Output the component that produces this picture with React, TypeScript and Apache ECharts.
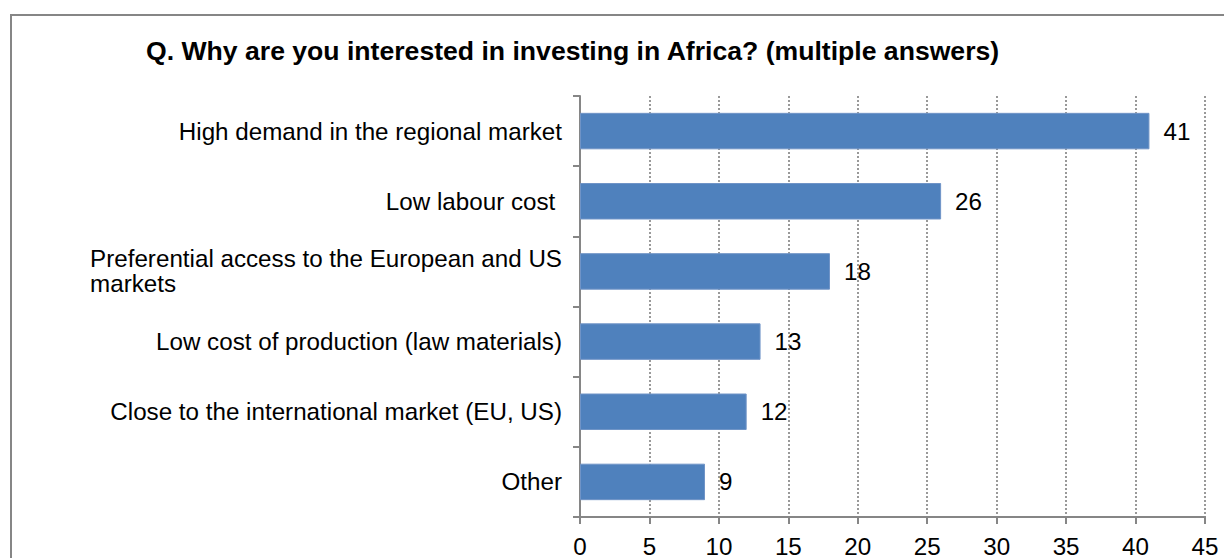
import React, { useEffect, useRef } from "react";
import * as echarts from "echarts";

const titleText = "Q. Why are you interested in investing in Africa? (multiple answers)";
const categories = [
  "High demand in the regional market",
  "Low labour cost ",
  "Preferential access to the European and US\nmarkets",
  "Low cost of production (law materials)",
  "Close to the international market (EU, US)",
  "Other",
];
const values = [41, 26, 18, 13, 12, 9];
const axisMax = 45;
const axisStep = 5;

const FONT = "'Liberation Sans', Arial, sans-serif";
const FS = 24.2;

export default function App() {
  const ref = useRef<HTMLDivElement>(null);
  useEffect(() => {
    if (!ref.current) return;
    const chart = echarts.init(ref.current, null, { renderer: "svg" });
    chart.setOption({
      animation: false,
      backgroundColor: "#ffffff",
      textStyle: { fontFamily: FONT },
      graphic: [
        {
          type: "rect",
          shape: { x: 11, y: 15, width: 1240, height: 600 },
          style: { fill: "none", stroke: "#868686", lineWidth: 2 },
          z: 100,
        },
        {
          type: "text",
          left: 146,
          top: 37,
          style: {
            text: titleText,
            font: "bold 26.6px " + FONT,
            fill: "#000000",
          },
        },
      ],
      grid: { left: 580, right: 19, top: 96, bottom: 41, containLabel: false },
      xAxis: {
        type: "value",
        min: 0,
        max: axisMax,
        interval: axisStep,
        axisLine: { show: true, lineStyle: { color: "#868686", width: 2 } },
        axisTick: { show: true, length: 7, lineStyle: { color: "#868686", width: 2 } },
        axisLabel: { fontSize: FS, color: "#000000", margin: 17, fontFamily: FONT },
        splitLine: {
          show: true,
          lineStyle: { color: "#999999", type: [2, 2], width: 2 },
        },
      },
      yAxis: {
        type: "category",
        inverse: true,
        data: categories,
        axisLine: { show: true, lineStyle: { color: "#868686", width: 2 } },
        axisTick: { show: true, length: 7, lineStyle: { color: "#868686", width: 2 } },
        axisLabel: {
          fontSize: FS,
          color: "#000000",
          margin: 18,
          fontFamily: FONT,
          lineHeight: 25,
          formatter: (v: string) => {
            if (v.indexOf("\n") >= 0) {
              return v
                .split("\n")
                .map((s) => "{l|" + s + "}")
                .join("\n");
            }
            return v;
          },
          rich: {
            l: { align: "left", fontSize: FS, color: "#000000", fontFamily: FONT, lineHeight: 25 },
          },
        },
        splitLine: { show: false },
      },
      series: [
        {
          type: "bar",
          data: values,
          barWidth: "52%",
          itemStyle: { color: "#4F81BD", borderColor: "#7094c7", borderWidth: 1 },
          label: {
            show: true,
            position: "right",
            distance: 14,
            fontSize: FS,
            color: "#000000",
            fontFamily: FONT,
          },
        },
      ],
    });
    return () => chart.dispose();
  }, []);
  return (
    <div
      ref={ref}
      style={{ position: "fixed", left: 0, top: 0, width: 1224, height: 558 }}
    />
  );
}
